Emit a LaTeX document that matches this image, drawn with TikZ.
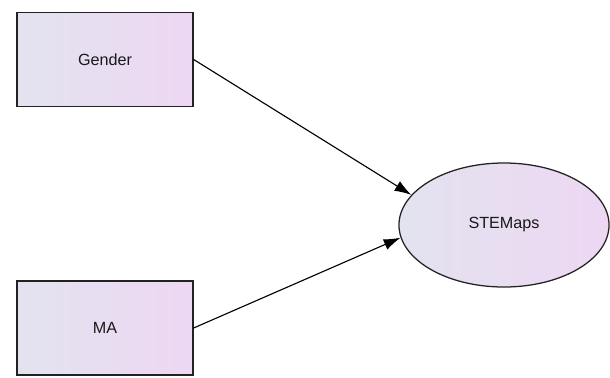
\documentclass[tikz,border=0pt]{standalone}
\usepackage{fontspec}
\setmainfont{Liberation Sans}
\usetikzlibrary{arrows.meta,shapes.geometric}
\definecolor{NodeLeft}{HTML}{E3E3EF}
\definecolor{NodeRight}{HTML}{EDD7F3}
\definecolor{EdgeGray}{HTML}{222222}

\begin{document}
\begin{tikzpicture}[x=0.025cm,y=-0.025cm,
      every node/.style={font=\fontsize{11.5}{13}\selectfont,align=center,text=black!90},
      var/.style={draw=EdgeGray,line width=0.9pt,left color=NodeLeft,right color=NodeRight,
        minimum width=4.4cm,minimum height=2.35cm,inner sep=0pt},
      latent/.style={var,ellipse,minimum width=5.25cm,minimum height=3.1cm},
      arrow/.style={-{Latex[length=4.2mm,width=2.8mm]},line width=0.8pt,draw=black}]
      \useasboundingbox (0,0) rectangle (610,377);
      \node[var] (gender) at (105,59.5) {Gender};
      \node[var] (ma) at (105,328) {MA};
      \node[latent] (stemaps) at (504,225) {STEMaps};
      \draw[arrow] (gender.east)--(stemaps.162);
      \draw[arrow] (ma.east)--(stemaps.187);
    \end{tikzpicture}
\end{document}
